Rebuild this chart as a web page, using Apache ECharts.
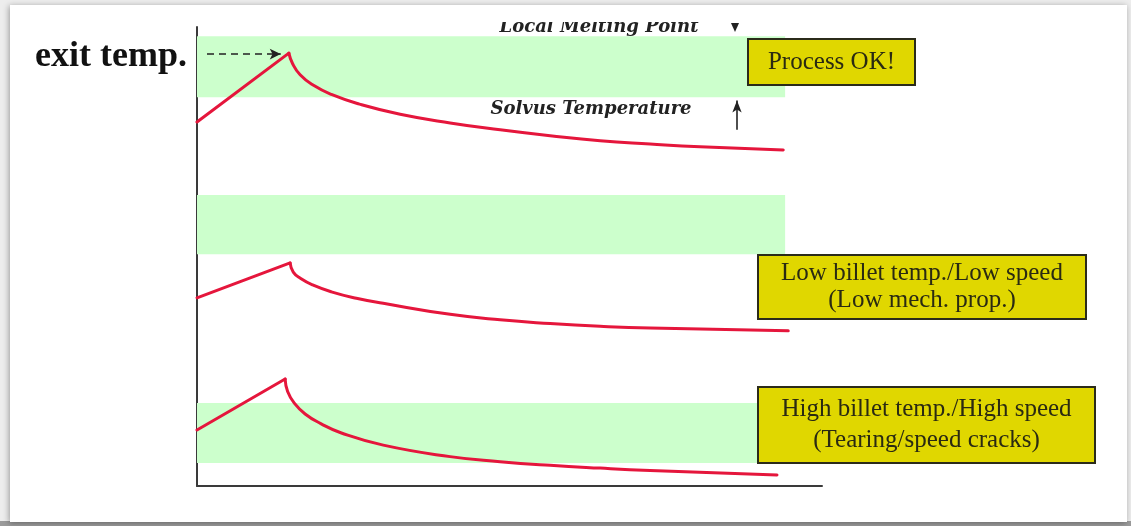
<!DOCTYPE html>
<html>
<head>
<meta charset="utf-8">
<title>Extrusion exit temperature</title>
<script src="https://cdn.jsdelivr.net/npm/echarts@6/dist/echarts.min.js"></script>
<style>
  html, body { margin: 0; padding: 0; background: #ededed; }
  #chart { width: 1131px; height: 526px; }
</style>
</head>
<body>
<div id="chart"></div>
<script>
// Exit temperature vs. time for three process conditions (arbitrary units).
// Each curve: linear rise to the breakthrough peak, then a decaying tail.
const riseProcessOk = [[0, 79.3], [14.7, 94.3]];
const tailProcessOk = [
  [14.7, 94.3], [15.3, 92.0], [16.5, 89.6], [18.5, 87.4], [21.5, 85.3],
  [26.0, 83.2], [32.5, 81.0], [40.5, 79.1], [48.5, 77.6], [56.5, 76.3],
  [64.5, 75.2], [72.5, 74.5], [80.5, 73.9], [93.8, 73.2]
];
const riseLowSpeed = [[0, 41.0], [14.9, 48.6]];
const tailLowSpeed = [
  [14.9, 48.6], [15.4, 46.6], [16.6, 45.2], [18.5, 43.8], [21.5, 42.3],
  [25.5, 40.9], [29.8, 39.8], [40.5, 37.4], [48.5, 36.2], [56.5, 35.4],
  [64.5, 34.8], [72.5, 34.4], [94.6, 33.8]
];
const riseHighSpeed = [[0, 12.2], [14.1, 23.3]];
const tailHighSpeed = [
  [14.1, 23.3], [14.5, 20.6], [15.6, 18.0], [17.3, 15.7], [19.8, 13.6],
  [23.0, 11.6], [29.8, 8.9], [40.5, 6.4], [48.5, 5.3], [56.5, 4.5],
  [64.5, 3.9], [72.5, 3.4], [92.8, 2.4]
];

// Solvus .. local melting point window, drawn once per panel: [yLow, yHigh]
const windowBands = [[84.7, 98.0], [50.5, 63.4], [5.0, 18.1]];
const bandEndX = 94.1;

// Annotation texts
const axisTitle = 'exit temp.';
const meltLabel = 'Local Melting Point';
const solvusLabel = 'Solvus Temperature';
const boxLabels = [
  'Process OK!',
  'Low billet temp./Low speed\n(Low mech. prop.)',
  'High billet temp./High speed\n(Tearing/speed cracks)'
];

const RED = '#e5163c';
const AXIS = '#3a3a3a';
const YELLOW = '#e0d700';
const GREEN = '#ccffcc';

const chart = echarts.init(document.getElementById('chart'), null, { renderer: 'canvas' });

function box(x, y, w, h, text, lineHeight) {
  return [
    { type: 'rect', z: 100, shape: { x: x, y: y, width: w, height: h },
      style: { fill: YELLOW, stroke: '#2b2b1a', lineWidth: 2 } },
    { type: 'text', z: 101,
      style: { text: text, x: x + w / 2, y: y + h / 2, textAlign: 'center', textVerticalAlign: 'middle',
               font: '25px "Liberation Serif", "Times New Roman", serif', fill: '#2a2a12',
               lineHeight: lineHeight } }
  ];
}

function curve(data, smooth) {
  return { type: 'line', data: data, z: 5, silent: true, smooth: smooth,
           showSymbol: false, lineStyle: { color: RED, width: 3, cap: 'round', join: 'round' } };
}

const option = {
  backgroundColor: '#ededed',
  animation: false,
  grid: { left: 197, top: 27, width: 625, height: 459 },
  xAxis: {
    type: 'value', min: 0, max: 100,
    axisLine: { show: true, lineStyle: { color: AXIS, width: 2 } },
    axisTick: { show: false }, axisLabel: { show: false }, splitLine: { show: false }
  },
  yAxis: {
    type: 'value', min: 0, max: 100,
    axisLine: { show: true, lineStyle: { color: AXIS, width: 2 } },
    axisTick: { show: false }, axisLabel: { show: false }, splitLine: { show: false }
  },
  graphic: [
    // page card
    { type: 'rect', z: -10, shape: { x: 0, y: 521, width: 1131, height: 5 }, style: { fill: '#9b9b9b' } },
    { type: 'rect', z: -9, shape: { x: 10, y: 5, width: 1117, height: 517 },
      style: { fill: '#ffffff', shadowBlur: 6, shadowColor: 'rgba(0,0,0,0.35)', shadowOffsetX: -1, shadowOffsetY: 1 } },
    // axis title
    { type: 'text', z: 50, style: { text: axisTitle, x: 35, y: 57, textVerticalAlign: 'middle',
      font: 'bold 36px "Liberation Serif", "Times New Roman", serif', fill: '#111' } },
    // limit labels
    { type: 'text', z: 50, style: { text: meltLabel, x: 599, y: 27, textAlign: 'center', textVerticalAlign: 'middle',
      font: 'italic bold 18px "DejaVu Serif", serif', fill: '#222' } },
    { type: 'text', z: 50, style: { text: solvusLabel, x: 591, y: 109, textAlign: 'center', textVerticalAlign: 'middle',
      font: 'italic bold 18px "DejaVu Serif", serif', fill: '#222' } },
    // arrowhead pointing down onto the melting point line
    { type: 'polygon', z: 50, shape: { points: [[731, 23], [739, 23], [735, 32]] }, style: { fill: '#222' } },
    // top edge of the slide cuts the upper label
    { type: 'rect', z: 60, shape: { x: 200, y: 5, width: 700, height: 17 }, style: { fill: '#ffffff' } }
  ].concat(
    box(748, 39, 167, 46, boxLabels[0], 28),
    box(758, 255, 328, 64, boxLabels[1], 27),
    box(758, 387, 337, 76, boxLabels[2], 31)
  ),
  series: [
    {
      // operating window bands
      type: 'line', data: [], z: 1, silent: true,
      markArea: {
        silent: true,
        itemStyle: { color: GREEN },
        data: windowBands.map(b => [{ xAxis: 0, yAxis: b[0] }, { xAxis: bandEndX, yAxis: b[1] }])
      }
    },
    Object.assign(curve(riseProcessOk, false), {
      markLine: {
        silent: true, animation: false,
        label: { show: false },
        data: [
          // breakthrough pressure reaches the window
          [{ coord: [1.6, 94.1], symbol: 'none' },
           { coord: [13.4, 94.1], symbol: 'arrow', symbolSize: [8, 11],
             lineStyle: { type: [7, 5], color: '#222', width: 1.6 } }],
          // solvus arrow
          [{ coord: [86.4, 77.6], symbol: 'none' },
           { coord: [86.4, 84.0], symbol: 'arrow', symbolSize: [7, 12],
             lineStyle: { type: 'solid', color: '#222', width: 1.6 } }]
        ],
        lineStyle: { color: '#222' }
      }
    }),
    curve(tailProcessOk, 0.5),
    curve(riseLowSpeed, false),
    curve(tailLowSpeed, 0.5),
    curve(riseHighSpeed, false),
    curve(tailHighSpeed, 0.5)
  ]
};

chart.setOption(option);
</script>
</body>
</html>
